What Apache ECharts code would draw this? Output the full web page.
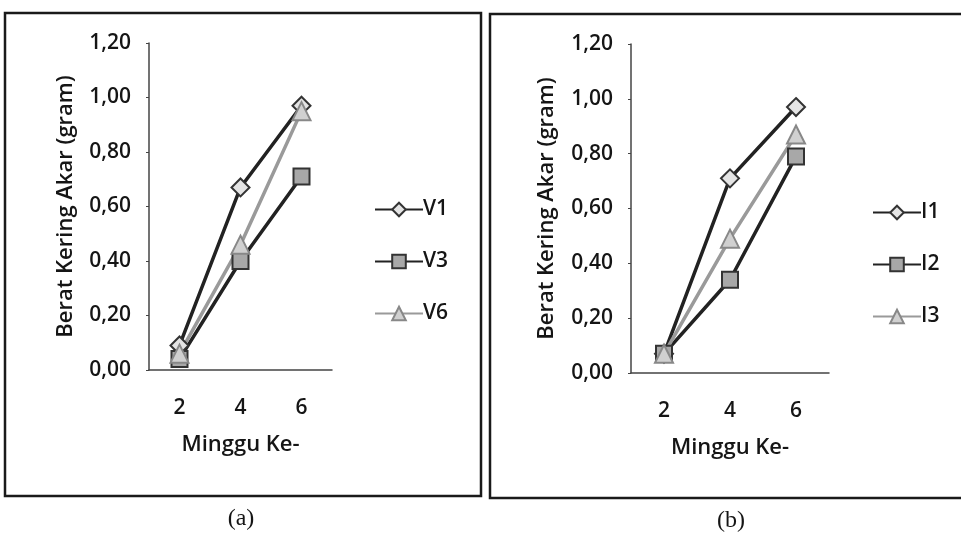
<!DOCTYPE html>
<html>
<head>
<meta charset="utf-8">
<script src="https://cdn.jsdelivr.net/npm/echarts@6/dist/echarts.min.js"></script>
<style>
  html, body { margin: 0; padding: 0; background: #fff; }
  #chart { width: 961px; height: 540px; }
</style>
</head>
<body>
<div id="chart"></div>
<script>
// Weeks of observation
const weeks = ['2', '4', '6'];

// Panel (a): root dry weight per variety
const v1 = [0.09, 0.67, 0.97];
const v3 = [0.04, 0.40, 0.71];
const v6 = [0.06, 0.46, 0.95];

// Panel (b): root dry weight per treatment
const i1 = [0.07, 0.71, 0.97];
const i2 = [0.07, 0.34, 0.79];
const i3 = [0.07, 0.49, 0.87];

const yTitle = 'Berat Kering Akar (gram)';
const xTitle = 'Minggu Ke-';
const font = 'Open Sans';
const ink = '#151515';

function yAxis(gridIndex, gap) {
  return {
    type: 'value', gridIndex, min: 0, max: 1.2, interval: 0.2,
    name: yTitle, nameLocation: 'middle', nameGap: gap, nameRotate: 90,
    nameTextStyle: { fontFamily: font, fontSize: 22, fontWeight: 600, color: ink },
    axisLine: { show: true, lineStyle: { color: '#444', width: 1.5 } },
    axisTick: { show: true, length: 3, lineStyle: { color: '#444' } },
    splitLine: { show: false },
    axisLabel: {
      fontFamily: font, fontSize: 21, fontWeight: 600, color: ink, margin: 18,
      formatter: v => v.toFixed(2).replace('.', ',')
    }
  };
}

function xAxis(gridIndex) {
  return {
    type: 'category', gridIndex, data: weeks, boundaryGap: true,
    name: xTitle, nameLocation: 'middle', nameGap: 64,
    nameTextStyle: { fontFamily: font, fontSize: 22, fontWeight: 600, color: ink },
    axisLine: { lineStyle: { color: '#444', width: 1.5 } },
    axisTick: { show: false },
    axisLabel: { fontFamily: font, fontSize: 21, fontWeight: 600, color: ink, margin: 28 }
  };
}

function series(name, data, idx, symbol, lineColor, fill, border) {
  return {
    name, type: 'line', data, xAxisIndex: idx, yAxisIndex: idx,
    symbol, symbolSize: symbol === 'rect' ? 16 : 18,
    lineStyle: { color: lineColor, width: 3.5 },
    itemStyle: { color: fill, borderColor: border, borderWidth: 2 },
    z: 3
  };
}

function legend(x, y, names) {
  return {
    left: x, top: y, orient: 'vertical', itemGap: 31,
    itemWidth: 48, itemHeight: 17, data: names,
    textStyle: { fontFamily: font, fontSize: 21, fontWeight: 600, color: ink, padding: [0, 0, 0, -5] }
  };
}

const chart = echarts.init(document.getElementById('chart'));
chart.setOption({
  animation: false,
  backgroundColor: '#fff',
  grid: [
    { left: 149, top: 43, width: 183, height: 327 },
    { left: 631, top: 44, width: 198, height: 329 }
  ],
  xAxis: [xAxis(0), xAxis(1)],
  yAxis: [yAxis(0, 72), yAxis(1, 73)],
  legend: [
    legend(369, 194, ['V1', 'V3', 'V6']),
    legend(867, 197, ['I1', 'I2', 'I3'])
  ],
  series: [
    series('V1', v1, 0, 'diamond', '#222', '#e4e4e4', '#333'),
    series('V3', v3, 0, 'rect', '#222', '#a8a8a8', '#333'),
    series('V6', v6, 0, 'triangle', '#9a9a9a', '#d0d0d0', '#888'),
    series('I1', i1, 1, 'diamond', '#222', '#e4e4e4', '#333'),
    series('I2', i2, 1, 'rect', '#222', '#a8a8a8', '#333'),
    series('I3', i3, 1, 'triangle', '#9a9a9a', '#d0d0d0', '#888')
  ],
  graphic: [
    { type: 'rect', shape: { x: 5, y: 13, width: 476, height: 483 },
      style: { fill: 'none', stroke: '#1a1a1a', lineWidth: 2.5 } },
    { type: 'rect', shape: { x: 490, y: 14, width: 480, height: 484 },
      style: { fill: 'none', stroke: '#1a1a1a', lineWidth: 2.5 } },
    { type: 'text', x: 241, y: 519,
      style: { text: '(a)', font: '24px "Liberation Serif"', fill: ink, align: 'center', verticalAlign: 'middle' } },
    { type: 'text', x: 731, y: 521,
      style: { text: '(b)', font: '24px "Liberation Serif"', fill: ink, align: 'center', verticalAlign: 'middle' } }
  ]
});
</script>
</body>
</html>
